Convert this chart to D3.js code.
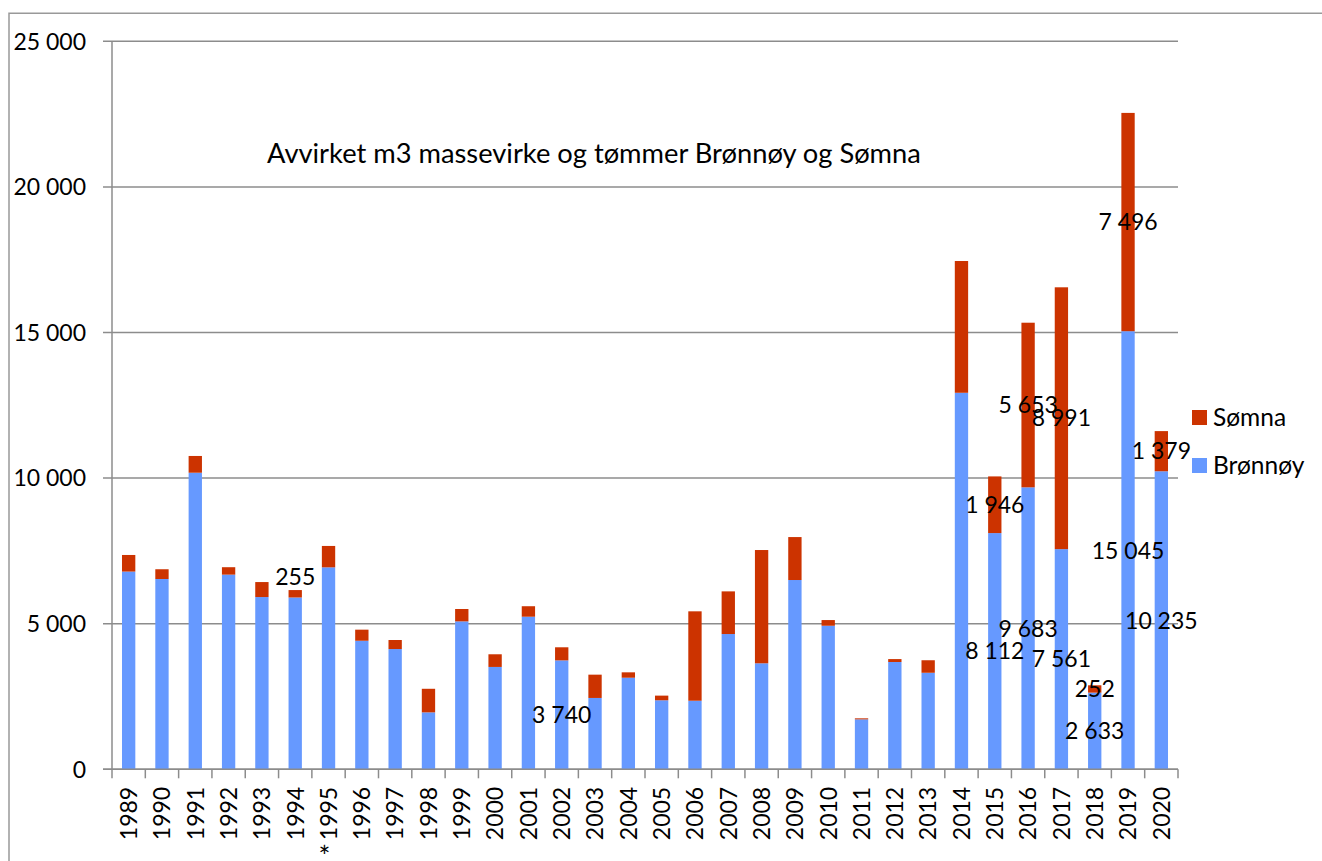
<!DOCTYPE html>
<html>
<head>
<meta charset="utf-8">
<script src="https://cdn.jsdelivr.net/npm/d3@7"></script>
<style>
  body { margin: 0; background: #fff; }
  text { font-family: Lato, "Open Sans", sans-serif; fill: #000; }
</style>
</head>
<body>
<script>
const years = ["1989","1990","1991","1992","1993","1994","1995","1996","1997","1998",
  "1999","2000","2001","2002","2003","2004","2005","2006","2007","2008",
  "2009","2010","2011","2012","2013","2014","2015","2016","2017","2018","2019","2020"]

const bronnoy = [6790, 6535, 10185, 6685, 5915, 5900, 6935, 4415, 4130, 1955,
  5080, 3515, 5240, 3740, 2450, 3145, 2370, 2355, 4645, 3640,
  6500, 4930, 1715, 3685, 3315, 12930, 8112, 9683, 7561, 2633, 15045, 10235]

const somna = [570, 335, 575, 255, 515, 255, 735, 380, 310, 810,
  425, 435, 360, 450, 800, 185, 160, 3070, 1465, 3890,
  1475, 195, 35, 100, 430, 4525, 1946, 5653, 8991, 252, 7496, 1379]

const seriesNames = ["Brønnøy", "Sømna"]
const yTicks = [0, 5000, 10000, 15000, 20000, 25000]
const title = "Avvirket m3 massevirke og tømmer Brønnøy og Sømna"

// which segments carry a value label (the rest have none in the original)
const labelled = [
  {year: "1994", series: "Sømna", place: "above"},
  {year: "2002", series: "Brønnøy"},
  {year: "2015", series: "Brønnøy"}, {year: "2015", series: "Sømna"},
  {year: "2016", series: "Brønnøy"}, {year: "2016", series: "Sømna"},
  {year: "2017", series: "Brønnøy"}, {year: "2017", series: "Sømna"},
  {year: "2018", series: "Brønnøy"}, {year: "2018", series: "Sømna"},
  {year: "2019", series: "Brønnøy"}, {year: "2019", series: "Sømna"},
  {year: "2020", series: "Brønnøy"}, {year: "2020", series: "Sømna"}
]
const footnotes = [{year: "1995", mark: "*"}]

const colors = {"Brønnøy": "#6699ff", "Sømna": "#cc3300"}
const gridColor = "#8c8c8c"
const fontSize = 23

const width = 1322
const height = 861
const margin = {top: 41.3, left: 112, right: 144, bottom: 91.7}
const plotW = width - margin.left - margin.right
const plotH = height - margin.top - margin.bottom

const fmt = d3.formatLocale({decimal: ",", thousands: " ", grouping: [3], currency: ["", ""]}).format(",d")

const svg = d3.select('body')
  .append('svg')
  .attr('width', width)
  .attr('height', height)

// outer frame of the chart area (top and left edges are visible)
svg.append('path')
  .attr('d', `M9,${height} V13.3 H${width}`)
  .attr('fill', 'none')
  .attr('stroke', '#999')
  .attr('stroke-width', 1.5)

const g = svg.append('g')
  .attr('transform', `translate(${margin.left},${margin.top})`)

const x = d3.scaleBand()
  .domain(years)
  .range([0, plotW])
  .paddingInner(0.6)
  .paddingOuter(0.3)

const y = d3.scaleLinear()
  .domain([0, 25000])
  .range([plotH, 0])

// gridlines
g.selectAll('.grid')
  .data(yTicks)
  .enter()
  .append('line')
  .attr('x1', -9)
  .attr('x2', plotW)
  .attr('y1', d => y(d))
  .attr('y2', d => y(d))
  .attr('stroke', gridColor)
  .attr('stroke-width', 1.5)

// y tick labels
g.selectAll('.ylab')
  .data(yTicks)
  .enter()
  .append('text')
  .attr('x', -26)
  .attr('y', d => y(d))
  .attr('dy', '0.36em')
  .attr('text-anchor', 'end')
  .style('font-size', fontSize + 'px')
  .text(d => fmt(d))

// stacked bars
const rows = years.map((yr, i) => ({year: yr, "Brønnøy": bronnoy[i], "Sømna": somna[i]}))
const stacked = d3.stack().keys(seriesNames)(rows)

g.selectAll('.series')
  .data(stacked)
  .enter()
  .append('g')
  .attr('fill', d => colors[d.key])
  .selectAll('rect')
  .data(d => d)
  .enter()
  .append('rect')
  .attr('x', d => x(d.data.year))
  .attr('width', x.bandwidth())
  .attr('y', d => y(d[1]))
  .attr('height', d => y(d[0]) - y(d[1]))

// axes lines
const step = x.step()
g.append('line')
  .attr('x1', 0).attr('x2', 0)
  .attr('y1', y(25000)).attr('y2', plotH + 9)
  .attr('stroke', gridColor).attr('stroke-width', 1.5)

g.append('line')
  .attr('x1', -9).attr('x2', plotW)
  .attr('y1', plotH).attr('y2', plotH)
  .attr('stroke', gridColor).attr('stroke-width', 1.5)

// category boundary ticks
g.selectAll('.xtick')
  .data(years)
  .enter()
  .append('line')
  .attr('x1', d => x(d) + x.bandwidth() / 2 + step / 2)
  .attr('x2', d => x(d) + x.bandwidth() / 2 + step / 2)
  .attr('y1', plotH)
  .attr('y2', plotH + 9)
  .attr('stroke', gridColor).attr('stroke-width', 1.5)

// x labels, rotated
g.selectAll('.xlab')
  .data(years)
  .enter()
  .append('text')
  .attr('transform', d => `translate(${x(d) + x.bandwidth() / 2},${plotH + 17.5}) rotate(-90)`)
  .attr('dy', '0.36em')
  .attr('text-anchor', 'end')
  .style('font-size', fontSize + 'px')
  .text(d => d)

g.selectAll('.note')
  .data(footnotes)
  .enter()
  .append('text')
  .attr('x', d => x(d.year) + x.bandwidth() / 2 - 4)
  .attr('y', plotH + 98)
  .attr('text-anchor', 'middle')
  .style('font-size', '28px')
  .text(d => d.mark)

// value labels
const seg = (yr, s) => {
  const layer = stacked.find(l => l.key === s)
  return layer[years.indexOf(yr)]
}
g.selectAll('.vlab')
  .data(labelled)
  .enter()
  .append('text')
  .attr('x', d => x(d.year) + x.bandwidth() / 2)
  .attr('y', d => {
    const s = seg(d.year, d.series)
    return d.place === 'above' ? y(s[1]) - 13 : y((s[0] + s[1]) / 2)
  })
  .attr('dy', '0.36em')
  .attr('text-anchor', 'middle')
  .style('font-size', fontSize + 'px')
  .text(d => {
    const s = seg(d.year, d.series)
    return fmt(s[1] - s[0])
  })

// title
svg.append('text')
  .attr('x', 267)
  .attr('y', 163)
  .style('font-size', '27.3px')
  .text(title)

// legend
const legend = svg.append('g')
  .attr('transform', 'translate(1192,410)')
const legendItems = ["Sømna", "Brønnøy"]
legend.selectAll('rect')
  .data(legendItems)
  .enter()
  .append('rect')
  .attr('x', 0)
  .attr('y', (d, i) => i * 48)
  .attr('width', 15)
  .attr('height', 15)
  .attr('fill', d => colors[d])
legend.selectAll('text')
  .data(legendItems)
  .enter()
  .append('text')
  .attr('x', 21)
  .attr('y', (d, i) => i * 48 + 7.5)
  .attr('dy', '0.36em')
  .style('font-size', '24.5px')
  .text(d => d)
</script>
</body>
</html>
